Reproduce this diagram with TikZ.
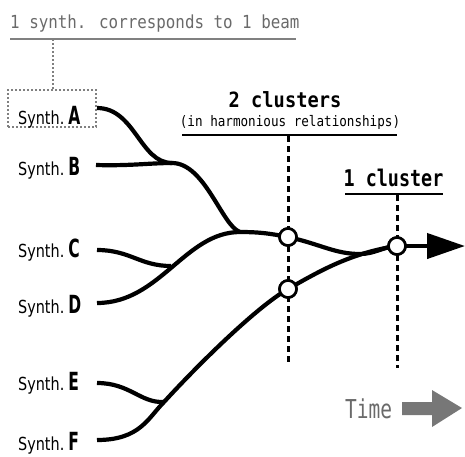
\documentclass[tikz,border=0pt]{standalone}
\usepackage{fontspec}
\usepackage{graphicx}
\setmainfont{DejaVu Sans}
\newfontfamily\monof{DejaVu Sans Mono}
\usetikzlibrary{arrows.meta}
\definecolor{lgray}{HTML}{808080}
\definecolor{tgray}{HTML}{6A6A6A}
\definecolor{agray}{HTML}{777777}
\newcommand\synlab[1]{\scalebox{0.8}[1]{\fontsize{18}{18}\selectfont Synth.}\hspace{4pt}\scalebox{0.62}[1]{\fontsize{25}{25}\selectfont\bfseries #1}}
\tikzset{
  lab/.style={anchor=base west, inner sep=0pt},
  beam/.style={line width=4.2pt, black},
  vdash/.style={line width=3pt, dash pattern=on 6pt off 4pt},
  uline/.style={line width=2.5pt},
  dot/.style={circle, draw, fill=white, line width=2.6pt, minimum size=17pt, inner sep=0pt},
}
\begin{document}
\begin{tikzpicture}[x=1pt,y=-1pt]
\useasboundingbox (0,0) rectangle (465,456);

% top note
\node[lab, text=tgray] (note) at (10,28) {\scalebox{0.88}[1]{\monof\fontsize{18}{18}\selectfont 1 synth. corresponds to 1 beam}};
\coordinate (nl) at (10,39);
\coordinate (nr) at (296,39);
\draw[lgray, line width=1.8pt] (nl) -- (nr);
\coordinate (nd) at (53,39);
\node[draw=lgray, line width=1.2pt, dash pattern=on 2pt off 2pt, minimum width=88pt, minimum height=37pt, inner sep=0pt] (box) at (52,108.5) {};
\draw[lgray, line width=1.2pt, dash pattern=on 2pt off 2pt] (nd) -- (box.north -| nd);

% labels
\node[lab] (sA) at (18,124) {\synlab{A}};
\node[lab] (sB) at (18,175) {\synlab{B}};
\node[lab] (sC) at (18,257) {\synlab{C}};
\node[lab] (sD) at (18,313) {\synlab{D}};
\node[lab] (sE) at (18,390) {\synlab{E}};
\node[lab] (sF) at (18,450) {\synlab{F}};

% cluster headings
\node[anchor=base, inner sep=0pt] (two) at (285,107) {\scalebox{0.89}[1]{\monof\bfseries\fontsize{21}{21}\selectfont 2 clusters}};
\node[anchor=base, inner sep=0pt] (harm) at (290,126) {\scalebox{0.87}[1]{\monof\fontsize{14.5}{14.5}\selectfont (in harmonious relationships)}};
\coordinate (u1l) at (182,135);
\coordinate (u1r) at (397,135);
\draw[uline] (u1l) -- (u1r);
\node[anchor=base, inner sep=0pt] (one) at (393.5,186) {\scalebox{0.8}[1]{\monof\bfseries\fontsize{23}{23}\selectfont 1 cluster}};
\coordinate (u2l) at (345,194);
\coordinate (u2r) at (443,194);
\draw[uline] (u2l) -- (u2r);

% dashed time markers
\coordinate (d1t) at (288,136);
\coordinate (d1b) at (288,363);
\coordinate (d2t) at (397,195);
\coordinate (d2b) at (397,368);
\draw[vdash] (d1t) -- (d1b);
\draw[vdash] (d2t) -- (d2b);

% start points and junctions
\coordinate (aS) at (97,108);
\coordinate (bS) at (96,165);
\coordinate (cS) at (97,250);
\coordinate (dS) at (97,303);
\coordinate (eS) at (97,383);
\coordinate (fS) at (97,440);
\coordinate (jAB) at (172,163);
\coordinate (jM) at (240,232);
\coordinate (jCD) at (171,266);
\coordinate (jEF) at (164,402);
\coordinate (jU) at (360,254);
\coordinate (tip) at (465,246);

\node[dot] (c1) at (288,237) {};
\node[dot] (c2) at (288,289) {};
\node[dot] (c3) at (397,246) {};

% beams
\begin{scope}[beam]
\draw (aS) .. controls (135,108) and (140,163) .. (jAB);
\draw (bS) .. controls (130,166) and (150,163) .. (jAB);
\draw (jAB) .. controls (205,163) and (222,226) .. (jM);
\draw (dS) .. controls (160,303) and (185,232) .. (jM) .. controls (262,232) and (272,234) .. (c1.center);
\draw (cS) .. controls (130,250) and (140,266) .. (jCD);
\draw (c1.center) .. controls (320,244) and (335,254) .. (jU) .. controls (375,254) and (385,246) .. (c3.center);
\draw (eS) .. controls (130,383) and (140,403) .. (jEF);
\draw (fS) .. controls (140,440) and (148,418) .. (jEF) .. controls (195,368) and (255,308) .. (c2.center);
\draw (c2.center) .. controls (318,272) and (350,253) .. (c3.center);
\draw[-{Triangle[length=38pt,width=25pt]}] (c3.center) -- (tip);
\end{scope}

\node[dot] at (c1) {};
\node[dot] at (c2) {};
\node[dot] at (c3) {};

% time
\node[lab, text=tgray] (time) at (345,418) {\scalebox{0.75}[1]{\monof\fontsize{26}{26}\selectfont Time}};
\fill[agray] (402,402) -- (432,402) -- (432,390) -- (462,408) -- (432,427) -- (432,415) -- (402,415) -- cycle;
\end{tikzpicture}
\end{document}
